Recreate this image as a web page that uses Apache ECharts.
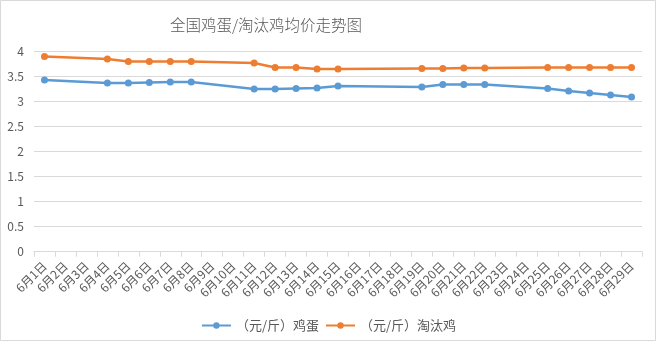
<!DOCTYPE html>
<html><head><meta charset="utf-8">
<script src="https://cdn.jsdelivr.net/npm/echarts@6/dist/echarts.min.js"></script>
<style>html,body{margin:0;padding:0;background:#fff}#c{width:657px;height:342px}</style>
</head><body><div id="c"></div>
<script>
var categories = [];
for (var d = 1; d <= 29; d++) categories.push('6月' + d + '日');
// values per day (null = no data)
var eggPrices = [3.43,null,null,3.37,3.37,3.38,3.39,3.39,null,null,3.25,3.25,3.26,3.27,3.31,null,null,null,3.29,3.34,3.34,3.34,null,null,3.26,3.21,3.17,3.13,3.09];
var henPrices = [3.90,null,null,3.85,3.80,3.80,3.80,3.80,null,null,3.77,3.68,3.68,3.65,3.65,null,null,null,3.66,3.66,3.67,3.67,null,null,3.68,3.68,3.68,3.68,3.68];
var seriesNames = ['（元/斤）鸡蛋','（元/斤）淘汰鸡'];
var chart = echarts.init(document.getElementById('c'));
var font = '"Microsoft YaHei","Noto Sans CJK SC",sans-serif';
chart.setOption({
  animation:false,
  backgroundColor:'#fff',
  graphic:[{type:'rect',shape:{x:0.5,y:0.5,width:655,height:340},style:{fill:'none',stroke:'#d9d9d9',lineWidth:1},z:-1}],
  title:{text:'全国鸡蛋/淘汰鸡均价走势图',left:261,textAlign:'center',top:12,textStyle:{fontFamily:font,fontSize:15.5,fontWeight:300,color:'#595959'}},
  legend:{top:314,left:'center',itemWidth:29,itemHeight:8,itemGap:6,textStyle:{fontFamily:font,fontSize:13,color:'#595959'},data:seriesNames},
  grid:{left:34,right:15,top:51.5,bottom:90.3,containLabel:false},
  xAxis:{type:'category',data:categories,boundaryGap:true,
    axisLine:{lineStyle:{color:'#d9d9d9'}},axisTick:{show:true,length:5,lineStyle:{color:'#d9d9d9'}},
    axisLabel:{interval:0,rotate:45,fontFamily:font,fontSize:12,color:'#595959',margin:12}},
  yAxis:{type:'value',min:0,max:4,interval:0.5,
    axisLine:{show:false},axisTick:{show:false},
    splitLine:{lineStyle:{color:'#d9d9d9'}},
    axisLabel:{fontFamily:font,fontSize:12,color:'#595959',margin:10}},
  series:[
    {name:seriesNames[0],type:'line',data:eggPrices,connectNulls:true,symbol:'circle',symbolSize:7,
     itemStyle:{color:'#5b9bd5'},lineStyle:{width:2.5,color:'#5b9bd5'}},
    {name:seriesNames[1],type:'line',data:henPrices,connectNulls:true,symbol:'circle',symbolSize:7,
     itemStyle:{color:'#ed7d31'},lineStyle:{width:2.5,color:'#ed7d31'}}
  ]
});
</script></body></html>
